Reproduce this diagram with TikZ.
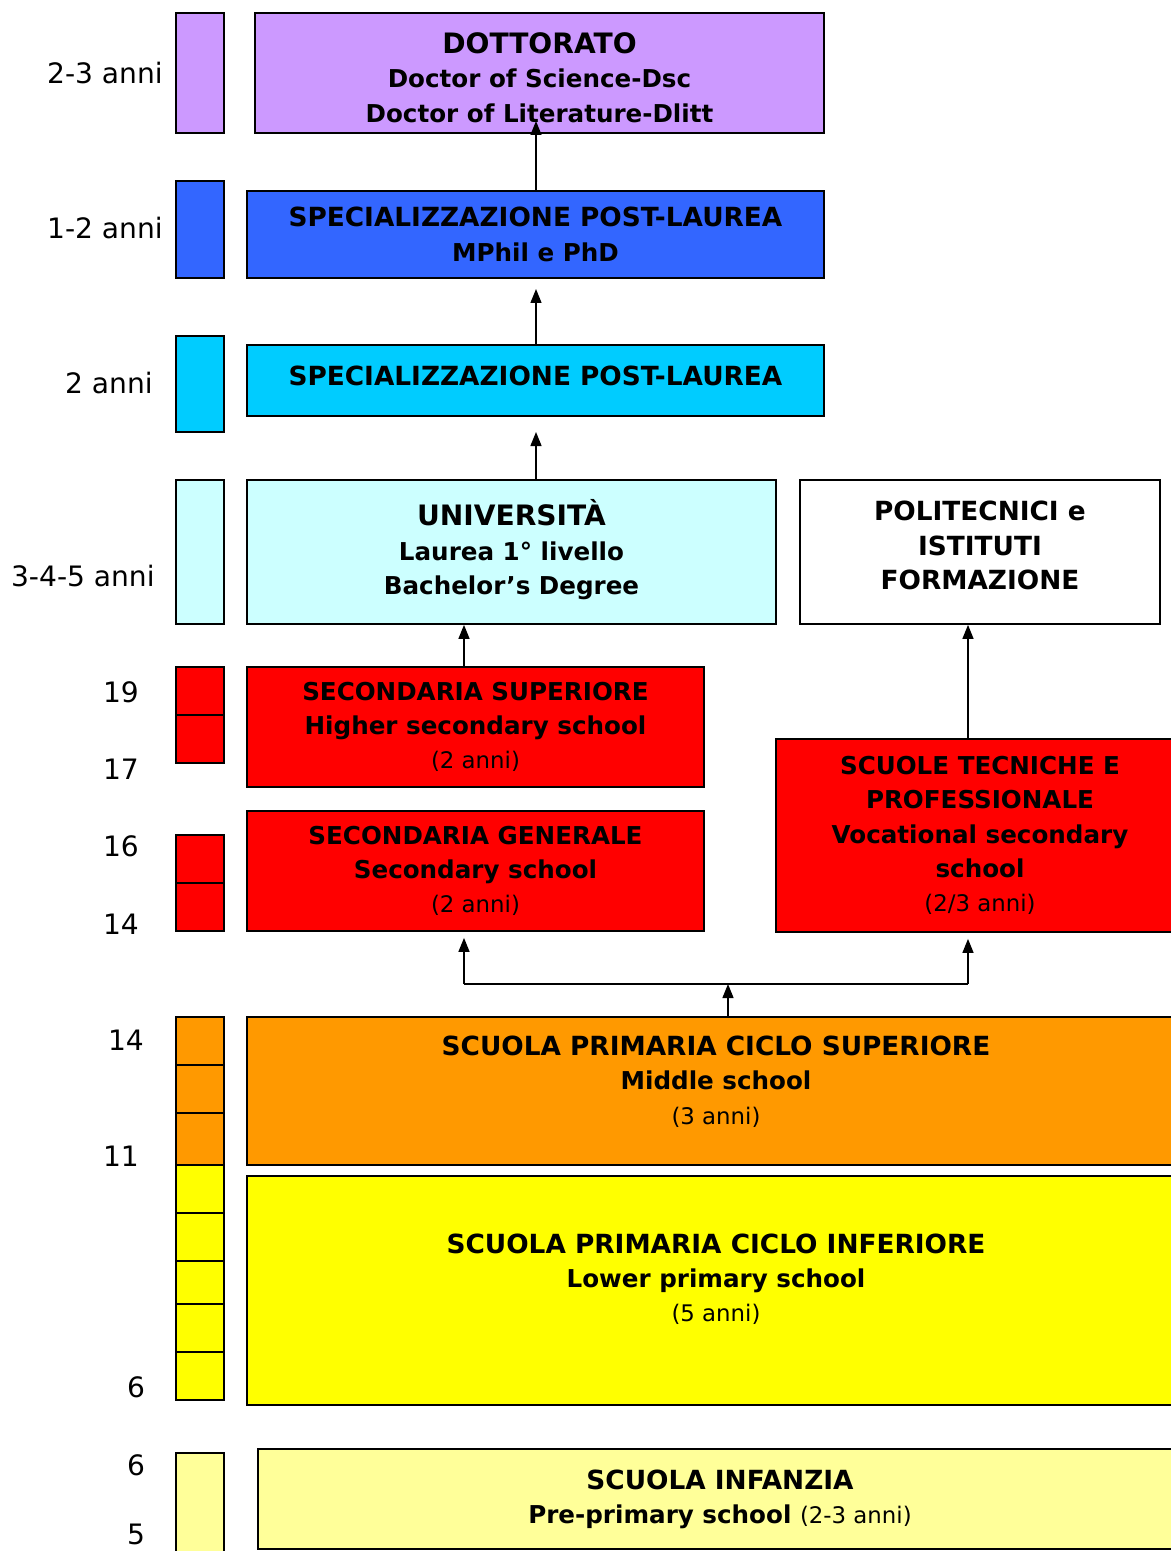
\documentclass[tikz,border=0pt]{standalone}
\usepackage{fontspec}
\setmainfont{DejaVu Sans}
\usetikzlibrary{arrows.meta}
\definecolor{dottorato}{HTML}{CC99FF}
\definecolor{postblu}{HTML}{3366FF}
\definecolor{postazz}{HTML}{00CCFF}
\definecolor{laurea}{HTML}{CCFFFF}
\definecolor{second}{HTML}{FF0000}
\definecolor{medie}{HTML}{FF9900}
\definecolor{primaria}{HTML}{FFFF00}
\definecolor{infanzia}{HTML}{FFFF99}
\newcommand{\px}{0.02cm}
\newcommand{\tit}{\fontsize{15}{20}\selectfont}
\newcommand{\sub}{\fontsize{14}{19.5}\selectfont}
\newcommand{\dur}{\mdseries\fontsize{13}{19}\selectfont}

\begin{document}
\begin{tikzpicture}[x=\px,y=-\px]
    \tikzstyle{box}=[draw, line width=1pt, inner sep=0pt, align=center, font=\bfseries\sub]
    \tikzstyle{bar}=[draw, line width=1pt]
    \tikzstyle{years}=[font=\fontsize{16}{19}\selectfont, anchor=east, inner sep=0pt]
    \tikzstyle{age}=[font=\fontsize{16}{19}\selectfont, inner sep=0pt]
    \tikzstyle{arr}=[line width=0.8pt, -{Triangle[length=0.28cm, width=0.22cm]}]
    \useasboundingbox (0,0) rectangle (1170,1551);

    % colonna degli anni
    \draw[bar, fill=dottorato] (176,13) rectangle (224,133);
    \draw[bar, fill=postblu] (176,181) rectangle (224,278);
    \draw[bar, fill=postazz] (176,336) rectangle (224,432);
    \draw[bar, fill=laurea] (176,480) rectangle (224,624);
    \foreach \a/\b in {667/715, 715/763, 835/883, 883/931}
        \draw[bar, fill=second] (176,\a) rectangle (224,\b);
    \foreach \a/\b in {1017/1065, 1065/1113, 1113/1165}
        \draw[bar, fill=medie] (176,\a) rectangle (224,\b);
    \foreach \a/\b in {1165/1213, 1213/1261, 1261/1304, 1304/1352, 1352/1400}
        \draw[bar, fill=primaria] (176,\a) rectangle (224,\b);
    \draw[bar, fill=infanzia] (176,1453) rectangle (224,1560);

    \node[years] (y23) at (163,73) {2-3 anni};
    \node[years] (y12) at (163,228) {1-2 anni};
    \node[years] (y2) at (153,383) {2 anni};
    \node[years] (y345) at (155,576) {3-4-5 anni};
    \node[age] (a19) at (121,692) {19};
    \node[age] (a17) at (121,769) {17};
    \node[age] (a16) at (121,846) {16};
    \node[age] (a14) at (121,924) {14};
    \node[age] (b14) at (126,1040) {14};
    \node[age] (b11) at (121,1156) {11};
    \node[age] (b6) at (136,1387) {6};
    \node[age] (c6) at (136,1465) {6};
    \node[age] (c5) at (136,1534) {5};

    % livelli
    \node[box, fill=dottorato, minimum width=569*\px, minimum height=120*\px] (dott) at (539.5,73)
        {\rule{0pt}{17pt}{\fontsize{16}{20}\selectfont DOTTORATO}\\Doctor of Science-Dsc\\Doctor of Literature-Dlitt};
    \node[box, fill=postblu, minimum width=577*\px, minimum height=87*\px] (specb) at (535.5,234.5)
        {{\tit SPECIALIZZAZIONE POST-LAUREA}\\MPhil e PhD};
    \node[box, fill=postazz, minimum width=577*\px, minimum height=71*\px] (specc) at (535.5,380.5)
        {\tit SPECIALIZZAZIONE POST-LAUREA\\[-14pt]};
    \node[box, fill=laurea, minimum width=529*\px, minimum height=144*\px] (univ) at (511.5,552)
        {{\fontsize{16}{20}\selectfont UNIVERSITÀ}\\Laurea 1° livello\\Bachelor’s Degree\\[-14pt]};
    \node[box, fill=white, minimum width=360*\px, minimum height=144*\px] (poli) at (980,552)
        {\tit POLITECNICI e\\\tit ISTITUTI\\\tit FORMAZIONE\\[-12pt]};
    \node[box, fill=second, minimum width=457*\px, minimum height=120*\px] (secsup) at (475.5,727)
        {SECONDARIA SUPERIORE\\Higher secondary school\\{\dur (2 anni)}};
    \node[box, fill=second, minimum width=457*\px, minimum height=120*\px] (secgen) at (475.5,871)
        {SECONDARIA GENERALE\\Secondary school\\{\dur (2 anni)}};
    \node[box, fill=second, minimum width=408*\px, minimum height=193*\px] (voc) at (980,835.5)
        {SCUOLE TECNICHE E\\PROFESSIONALE\\Vocational secondary\\school\\{\dur (2/3 anni)}};
    \node[box, fill=medie, minimum width=938*\px, minimum height=148*\px] (primsup) at (716,1091)
        {{\tit SCUOLA PRIMARIA CICLO SUPERIORE}\\Middle school\\{\dur (3 anni)}\\[-7pt]};
    \node[box, fill=primaria, minimum width=938*\px, minimum height=229*\px] (priminf) at (716,1290.5)
        {{\tit SCUOLA PRIMARIA CICLO INFERIORE}\\Lower primary school\\{\dur (5 anni)}\\[-5pt]};
    \node[box, fill=infanzia, minimum width=924*\px, minimum height=100*\px] (infa) at (720,1499)
        {{\tit SCUOLA INFANZIA}\\Pre-primary school {\dur (2-3 anni)}};

    % frecce
    \coordinate (tdott) at (536,121);
    \coordinate (tspecb) at (536,289);
    \coordinate (tspecc) at (536,432);
    \coordinate (fork) at (728,984);
    \coordinate (forkl) at (464,984);
    \coordinate (forkr) at (968,984);
    \draw[arr] (specb.north -| tdott) -- (tdott);
    \draw[arr] (specc.north -| tspecb) -- (tspecb);
    \draw[arr] (univ.north -| tspecc) -- (tspecc);
    \draw[arr] (secsup.north -| forkl) -- (univ.south -| forkl);
    \draw[arr] (voc.north -| forkr) -- (poli.south -| forkr);
    \draw[line width=0.8pt] (forkl) -- (forkr);
    \draw[arr] (primsup.north -| fork) -- (fork);
    \draw[arr, shorten >=6*\px] (forkl) -- (secgen.south -| forkl);
    \draw[arr, shorten >=6*\px] (forkr) -- (voc.south -| forkr);
\end{tikzpicture}
\end{document}
